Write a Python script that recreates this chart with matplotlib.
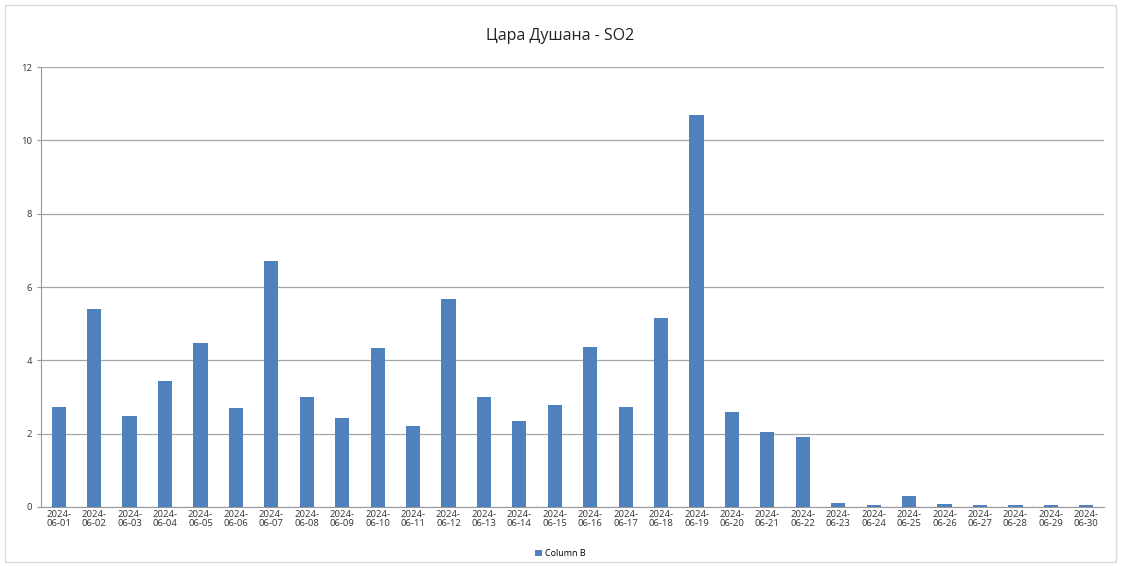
import numpy as np
import matplotlib
matplotlib.use('Agg')
import matplotlib.pyplot as plt
from matplotlib.patches import Rectangle

dates = ['2024-\n06-%02d' % d for d in range(1, 31)]
so2 = [2.73, 5.40, 2.48, 3.44, 4.47, 2.70, 6.71, 3.00, 2.43, 4.34,
       2.21, 5.67, 3.00, 2.35, 2.78, 4.36, 2.73, 5.15, 10.69, 2.59,
       2.05, 1.91, 0.10, 0.06, 0.30, 0.08, 0.05, 0.05, 0.06, 0.06]

plt.rcParams['font.family'] = ['Open Sans', 'DejaVu Sans']

fig = plt.figure(figsize=(11.21, 5.66), dpi=100)
fig.patches.append(Rectangle((5 / 1121, 4 / 566), 1111 / 1121, 557 / 566,
                             transform=fig.transFigure, fill=False,
                             edgecolor='#d9d9d9', linewidth=1))
ax = fig.add_axes([41 / 1121, 59 / 566, 1063 / 1121, 440 / 566])

x = np.arange(len(dates))
ax.bar(x, so2, width=0.4, color='#4f81bd', label='Column B', zorder=3)

ax.set_xlim(-0.5, len(dates) - 0.5)
ax.set_ylim(0, 12)
ax.set_yticks(range(0, 13, 2))
ax.set_xticks(x)
ax.set_xticklabels(dates, fontsize=6.8, color='#333333', linespacing=1.0)
ax.tick_params(axis='y', labelsize=6.8, colors='#333333', length=3, color='#999999')
ax.tick_params(axis='x', length=0, pad=2)
ax.grid(axis='y', color='#a6a6a6', linewidth=0.9, zorder=0)
for s in ['top', 'right']:
    ax.spines[s].set_visible(False)
ax.spines['left'].set_color('#999999')
ax.spines['bottom'].set_color('#999999')

fig.text(0.5, 0.936, 'Цара Душана - SO2', ha='center', va='center', fontsize=11.5, color='#222222')
fig.legend(loc='center', bbox_to_anchor=(0.5, 0.022), frameon=False, fontsize=6.5,
           handlelength=0.7, handleheight=0.7, handletextpad=0.4)

fig.savefig('out.png', dpi=100)
